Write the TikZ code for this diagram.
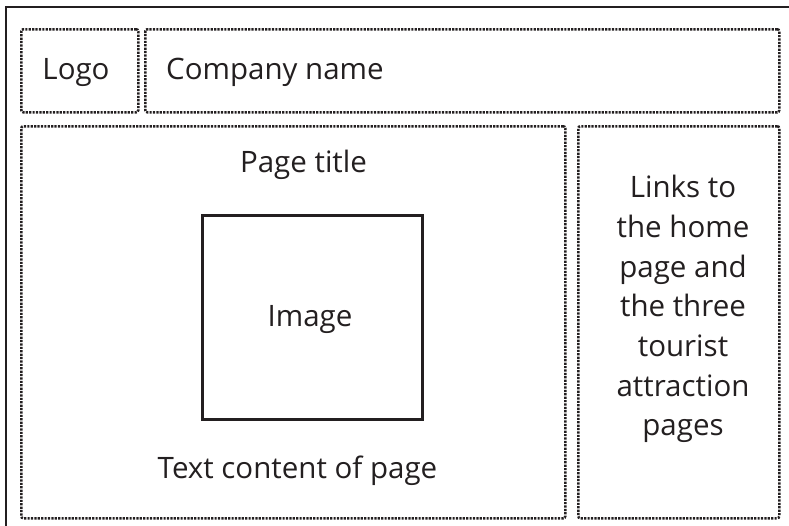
\documentclass[tikz,border=0pt]{standalone}
\usepackage{fontspec}
\setmainfont{Open Sans}
\definecolor{ink}{HTML}{231F20}
\begin{document}
\begin{tikzpicture}[x=1pt,y=-1pt,
  dotbox/.style={draw=ink,line width=2.5pt,dash pattern=on 2.2pt off 1.2pt,rounded corners=2pt,inner sep=0pt,anchor=north west},
  label/.style={text=ink,font=\fontsize{29.5}{39.7}\selectfont,inner sep=0pt,anchor=base},
  frame/.style={draw=ink,line width=2.8pt}]
\useasboundingbox (0,0) rectangle (789,525);
\draw[frame] (6,540) |- (800,7);
\node[dotbox,minimum width=117pt,minimum height=83pt] (logo) at (20,28) {};
\node[dotbox,minimum width=634pt,minimum height=83pt] (company) at (144,28) {};
\node[dotbox,minimum width=544pt,minimum height=392pt] (main) at (20,125) {};
\node[dotbox,minimum width=201pt,minimum height=392pt] (links) at (577,125) {};
\node[draw=ink,line width=2.5pt,minimum width=220pt,minimum height=204pt,inner sep=0pt,anchor=north west] (image) at (201,214) {};
\node[label] (logotext) at (76,79) {Logo};
\node[label,anchor=base west] (companytext) at (166,79) {Company name};
\node[label] (pagetitle) at (303.5,172) {Page title};
\node[label] (imagetext) at (310,326) {Image};
\node[label] (content) at (297.5,478) {Text content of page};
\node[label,align=center,anchor=north] (linkstext) at (683,175) {Links to\\the home\\page and\\the three\\tourist\\attraction\\pages};
\end{tikzpicture}
\end{document}
